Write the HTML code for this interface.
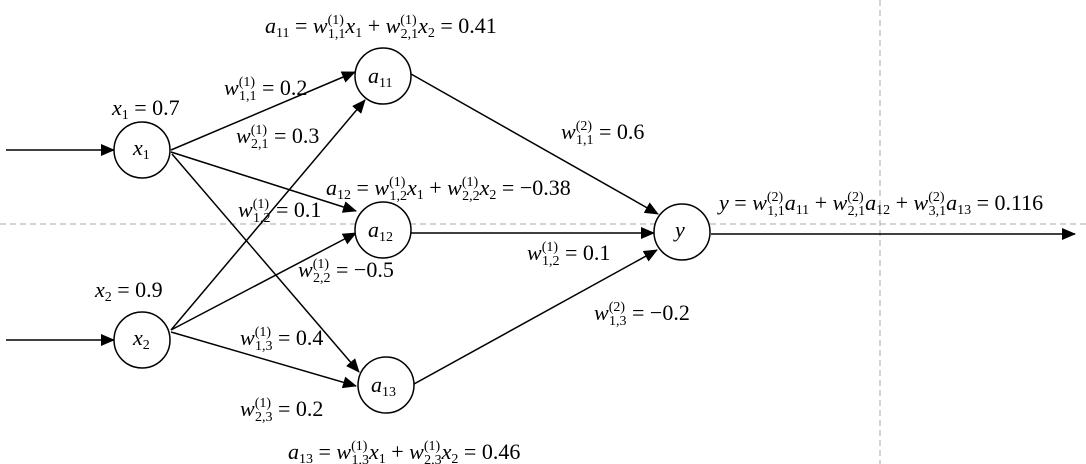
<!DOCTYPE html>
<html><head><meta charset="utf-8"><style>
html,body{margin:0;padding:0;background:#fff;}
svg{display:block;}
text{font-family:"Liberation Serif",serif;font-size:22px;fill:#000;}
.i{font-style:italic;}
.s{font-size:14px;font-style:normal;}
</style></head><body>
<svg width="1086" height="464" viewBox="0 0 1086 464" xmlns="http://www.w3.org/2000/svg">
<defs><marker id="ar" markerWidth="14" markerHeight="12" refX="13" refY="6" orient="auto" markerUnits="userSpaceOnUse"><path d="M0,0 L14,6 L0,12 z" fill="#000"/></marker></defs>
<line x1="0" y1="224" x2="1086" y2="224" stroke="#aaa" stroke-dasharray="6,4" stroke-width="1"/>
<line x1="880" y1="0" x2="880" y2="464" stroke="#aaa" stroke-dasharray="6,4" stroke-width="1"/>
<g stroke="#000" stroke-width="1.5" fill="none">
<line x1="6" y1="150" x2="114" y2="150" marker-end="url(#ar)"/>
<line x1="6" y1="340" x2="114" y2="340" marker-end="url(#ar)"/>
<line x1="171" y1="150" x2="355" y2="72" marker-end="url(#ar)"/>
<line x1="171" y1="152" x2="356" y2="211" marker-end="url(#ar)"/>
<line x1="172" y1="154" x2="359" y2="372" marker-end="url(#ar)"/>
<line x1="171" y1="330" x2="365" y2="100" marker-end="url(#ar)"/>
<line x1="171" y1="330" x2="356" y2="233" marker-end="url(#ar)"/>
<line x1="171" y1="332" x2="356" y2="386" marker-end="url(#ar)"/>
<line x1="411" y1="74" x2="658" y2="214" marker-end="url(#ar)"/>
<line x1="411" y1="233" x2="654" y2="233" marker-end="url(#ar)"/>
<line x1="414" y1="384" x2="657" y2="250" marker-end="url(#ar)"/>
<line x1="711" y1="234" x2="1075" y2="234" marker-end="url(#ar)"/>
<circle cx="142" cy="150" r="28" fill="#fff"/>
<circle cx="142" cy="340" r="28" fill="#fff"/>
<circle cx="383" cy="76" r="28" fill="#fff"/>
<circle cx="383" cy="230" r="28" fill="#fff"/>
<circle cx="386" cy="385" r="28" fill="#fff"/>
<circle cx="682" cy="232" r="28" fill="#fff"/>
</g>
<text x="133" y="155" class="i">x<tspan class="s" dy="4">1</tspan></text>
<text x="133" y="345" class="i">x<tspan class="s" dy="4">2</tspan></text>
<text x="368" y="83" class="i">a<tspan class="s" dy="4">11</tspan></text>
<text x="368" y="237" class="i">a<tspan class="s" dy="4">12</tspan></text>
<text x="371" y="392" class="i">a<tspan class="s" dy="4">13</tspan></text>
<text x="675" y="237" class="i">y</text>

<text x="112" y="115"><tspan class="i">x</tspan><tspan class="s" dy="4">1</tspan><tspan dy="-4"> = 0.7</tspan></text>
<text x="95" y="297"><tspan class="i">x</tspan><tspan class="s" dy="4">2</tspan><tspan dy="-4"> = 0.9</tspan></text>

<text x="224" y="95"><tspan class="i">w</tspan><tspan class="s" dy="-9">(1)</tspan><tspan class="s" dx="-16" dy="14">1,1</tspan><tspan dy="-5"> = 0.2</tspan></text>
<text x="236" y="143"><tspan class="i">w</tspan><tspan class="s" dy="-9">(1)</tspan><tspan class="s" dx="-16" dy="14">2,1</tspan><tspan dy="-5"> = 0.3</tspan></text>
<text x="238" y="217"><tspan class="i">w</tspan><tspan class="s" dy="-9">(1)</tspan><tspan class="s" dx="-16" dy="14">1,2</tspan><tspan dy="-5"> = 0.1</tspan></text>
<text x="298" y="277"><tspan class="i">w</tspan><tspan class="s" dy="-9">(1)</tspan><tspan class="s" dx="-16" dy="14">2,2</tspan><tspan dy="-5"> = −0.5</tspan></text>
<text x="240" y="345"><tspan class="i">w</tspan><tspan class="s" dy="-9">(1)</tspan><tspan class="s" dx="-16" dy="14">1,3</tspan><tspan dy="-5"> = 0.4</tspan></text>
<text x="240" y="416"><tspan class="i">w</tspan><tspan class="s" dy="-9">(1)</tspan><tspan class="s" dx="-16" dy="14">2,3</tspan><tspan dy="-5"> = 0.2</tspan></text>
<text x="561" y="139"><tspan class="i">w</tspan><tspan class="s" dy="-9">(2)</tspan><tspan class="s" dx="-16" dy="14">1,1</tspan><tspan dy="-5"> = 0.6</tspan></text>
<text x="527" y="260"><tspan class="i">w</tspan><tspan class="s" dy="-9">(1)</tspan><tspan class="s" dx="-16" dy="14">1,2</tspan><tspan dy="-5"> = 0.1</tspan></text>
<text x="594" y="320"><tspan class="i">w</tspan><tspan class="s" dy="-9">(2)</tspan><tspan class="s" dx="-16" dy="14">1,3</tspan><tspan dy="-5"> = −0.2</tspan></text>

<text x="265" y="33"><tspan class="i">a</tspan><tspan class="s" dy="4">11</tspan><tspan dy="-4"> = </tspan><tspan class="i">w</tspan><tspan class="s" dy="-9">(1)</tspan><tspan class="s" dx="-16" dy="14">1,1</tspan><tspan class="i" dy="-5">x</tspan><tspan class="s" dy="4">1</tspan><tspan dy="-4"> + </tspan><tspan class="i">w</tspan><tspan class="s" dy="-9">(1)</tspan><tspan class="s" dx="-16" dy="14">2,1</tspan><tspan class="i" dy="-5">x</tspan><tspan class="s" dy="4">2</tspan><tspan dy="-4"> = 0.41</tspan></text>
<text x="326" y="195"><tspan class="i">a</tspan><tspan class="s" dy="4">12</tspan><tspan dy="-4"> = </tspan><tspan class="i">w</tspan><tspan class="s" dy="-9">(1)</tspan><tspan class="s" dx="-16" dy="14">1,2</tspan><tspan class="i" dy="-5">x</tspan><tspan class="s" dy="4">1</tspan><tspan dy="-4"> + </tspan><tspan class="i">w</tspan><tspan class="s" dy="-9">(1)</tspan><tspan class="s" dx="-16" dy="14">2,2</tspan><tspan class="i" dy="-5">x</tspan><tspan class="s" dy="4">2</tspan><tspan dy="-4"> = −0.38</tspan></text>
<text x="288" y="459"><tspan class="i">a</tspan><tspan class="s" dy="4">13</tspan><tspan dy="-4"> = </tspan><tspan class="i">w</tspan><tspan class="s" dy="-9">(1)</tspan><tspan class="s" dx="-16" dy="14">1,3</tspan><tspan class="i" dy="-5">x</tspan><tspan class="s" dy="4">1</tspan><tspan dy="-4"> + </tspan><tspan class="i">w</tspan><tspan class="s" dy="-9">(1)</tspan><tspan class="s" dx="-16" dy="14">2,3</tspan><tspan class="i" dy="-5">x</tspan><tspan class="s" dy="4">2</tspan><tspan dy="-4"> = 0.46</tspan></text>
<text x="719" y="210"><tspan class="i">y</tspan><tspan> = </tspan><tspan class="i">w</tspan><tspan class="s" dy="-9">(2)</tspan><tspan class="s" dx="-16" dy="14">1,1</tspan><tspan class="i" dy="-5">a</tspan><tspan class="s" dy="4">11</tspan><tspan dy="-4"> + </tspan><tspan class="i">w</tspan><tspan class="s" dy="-9">(2)</tspan><tspan class="s" dx="-16" dy="14">2,1</tspan><tspan class="i" dy="-5">a</tspan><tspan class="s" dy="4">12</tspan><tspan dy="-4"> + </tspan><tspan class="i">w</tspan><tspan class="s" dy="-9">(2)</tspan><tspan class="s" dx="-16" dy="14">3,1</tspan><tspan class="i" dy="-5">a</tspan><tspan class="s" dy="4">13</tspan><tspan dy="-4"> = 0.116</tspan></text>
</svg>
</body></html>
